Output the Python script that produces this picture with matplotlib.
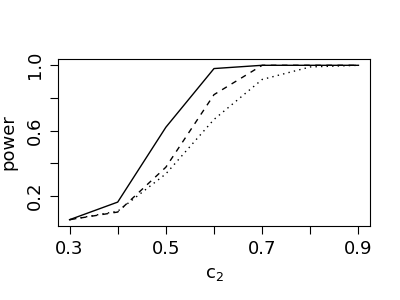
import matplotlib
matplotlib.use("Agg")
import matplotlib.pyplot as plt

c2 = [0.3, 0.4, 0.5, 0.6, 0.7, 0.8, 0.9]
power_solid = [0.053, 0.161, 0.62, 0.98, 1.0, 1.0, 1.0]
power_dashed = [0.053, 0.10, 0.375, 0.82, 1.0, 1.0, 1.0]
power_dotted = [0.053, 0.105, 0.334, 0.668, 0.913, 0.99, 1.0]

xticks = [0.3, 0.4, 0.5, 0.6, 0.7, 0.8, 0.9]
xlabels = ["0.3", "", "0.5", "", "0.7", "", "0.9"]
yticks = [0.2, 0.4, 0.6, 0.8, 1.0]
ylabels = ["0.2", "", "0.6", "", "1.0"]

fig = plt.figure(figsize=(4, 3), dpi=100)
ax = fig.add_axes([0.145, 0.247, 0.78, 0.556])

ax.plot(c2, power_solid, color="black", lw=1, linestyle="-")
ax.plot(c2, power_dashed, color="black", lw=1, linestyle=(0, (4, 4)))
ax.plot(c2, power_dotted, color="black", lw=1, linestyle=(0, (1, 3)))

ax.set_xlim(0.276, 0.924)
ax.set_ylim(0.015, 1.038)
ax.set_xticks(xticks)
ax.set_xticklabels(xlabels)
ax.set_yticks(yticks)
ax.set_yticklabels(ylabels, rotation=90, va="center")
ax.tick_params(direction="out", length=6, width=0.8, labelsize=13, pad=4)
for s in ax.spines.values():
    s.set_linewidth(0.8)

ax.set_xlabel("c$_2$", fontsize=13, labelpad=5)
ax.set_ylabel("power", fontsize=13, labelpad=6)

fig.savefig("out.png", dpi=100)
